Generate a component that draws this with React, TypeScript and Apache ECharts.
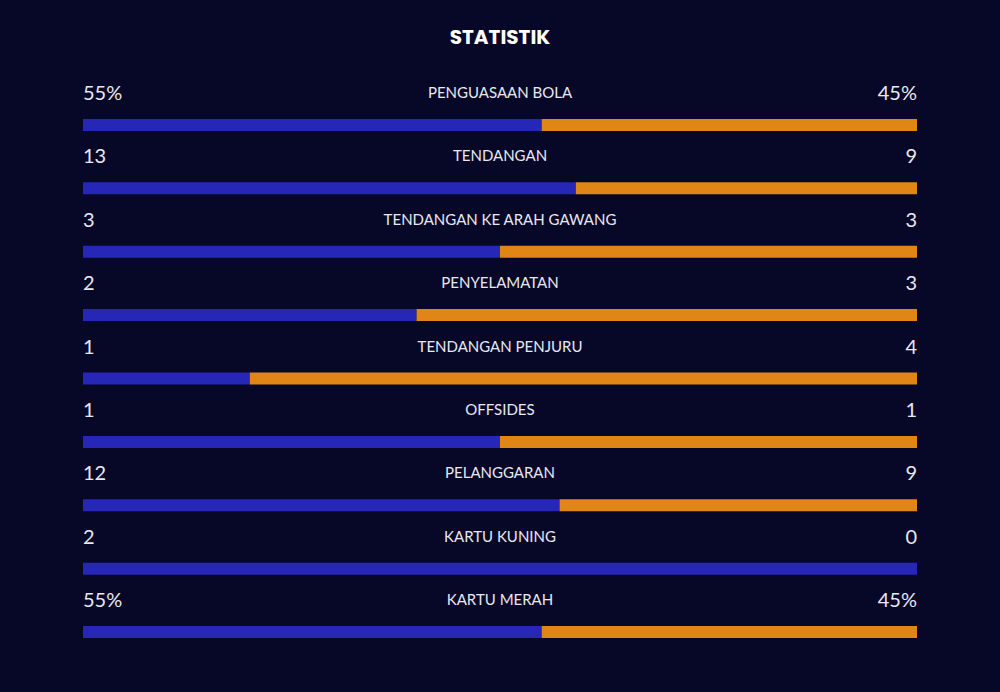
import React, { useEffect, useRef } from "react";
import * as echarts from "echarts";

const categories = [
  "PENGUASAAN BOLA",
  "TENDANGAN",
  "TENDANGAN KE ARAH GAWANG",
  "PENYELAMATAN",
  "TENDANGAN PENJURU",
  "OFFSIDES",
  "PELANGGARAN",
  "KARTU KUNING",
  "KARTU MERAH",
];
const leftValues = [55, 13, 3, 2, 1, 1, 12, 2, 55];
const rightValues = [45, 9, 3, 3, 4, 1, 9, 0, 45];
const leftLabels = ["55%", "13", "3", "2", "1", "1", "12", "2", "55%"];
const rightLabels = ["45%", "9", "3", "3", "4", "1", "9", "0", "45%"];

const BLUE = "#2727b7";
const ORANGE = "#e08616";
const BG = "#070728";
const TEXT = "#e8e8f0";

export default function App() {
  const ref = useRef<HTMLDivElement>(null);
  useEffect(() => {
    if (!ref.current) return;
    const chart = echarts.init(ref.current, null, { renderer: "svg" });
    const leftShare = leftValues.map((v, i) => (v / (v + rightValues[i])) * 100);
    const rightShare = rightValues.map((v, i) => (v / (leftValues[i] + v)) * 100);
    const valueLabel = {
      show: true,
      color: TEXT,
      fontFamily: "Lato",
      fontSize: 20,
      verticalAlign: "middle" as const,
    };
    chart.setOption({
      animation: false,
      backgroundColor: BG,
      title: {
        text: "STATISTIK",
        left: "center",
        top: 22,
        textStyle: {
          color: "#ffffff",
          fontFamily: "Poppins, Inter, 'Noto Sans', sans-serif",
          fontWeight: "bold",
          fontSize: 20,
        },
      },
      grid: { left: 83, right: 83, top: 93.3, bottom: 28.3 },
      xAxis: {
        type: "value",
        min: 0,
        max: 100,
        show: false,
      },
      yAxis: {
        type: "category",
        data: categories,
        inverse: true,
        show: false,
      },
      series: [
        {
          type: "bar",
          name: "left",
          stack: "s",
          barWidth: 12,
          data: leftShare,
          itemStyle: { color: BLUE },
          silent: true,
          label: {
            ...valueLabel,
            position: [0, -27],
            align: "left",
            formatter: (p: any) => leftLabels[p.dataIndex],
          },
        },
        {
          type: "bar",
          name: "right",
          stack: "s",
          barWidth: 12,
          data: rightShare,
          itemStyle: { color: ORANGE },
          silent: true,
          label: {
            ...valueLabel,
            position: ["100%", -27],
            align: "right",
            formatter: (p: any) => rightLabels[p.dataIndex],
          },
        },
        {
          type: "bar",
          name: "label",
          barWidth: 12,
          barGap: "-100%",
          data: categories.map(() => 100),
          itemStyle: { color: "rgba(0,0,0,0)" },
          silent: true,
          label: {
            show: true,
            position: ["50%", -27],
            align: "center",
            verticalAlign: "middle",
            color: TEXT,
            fontFamily: "Lato",
            fontSize: 15,
            formatter: (p: any) => categories[p.dataIndex],
          },
        },
      ],
    });
    return () => chart.dispose();
  }, []);
  return (
    <div
      ref={ref}
      style={{ position: "fixed", left: 0, top: 0, width: 1000, height: 692 }}
    />
  );
}
